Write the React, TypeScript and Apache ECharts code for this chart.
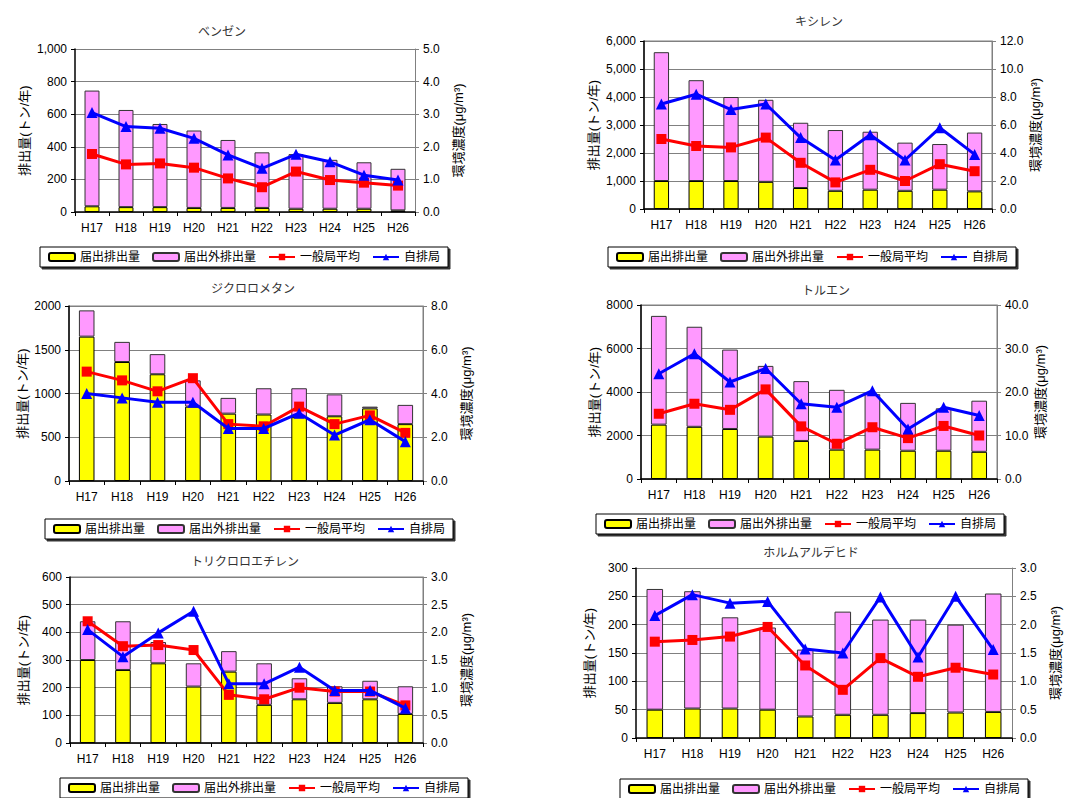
import React, { useEffect, useRef } from "react";
import * as echarts from "echarts";

const categories = ["H17", "H18", "H19", "H20", "H21", "H22", "H23", "H24", "H25", "H26"];
const seriesNames = ["届出排出量", "届出外排出量", "一般局平均", "自排局"];
const leftAxisName = "排出量(トン/年)";
const rightAxisName = "環境濃度(μg/m³)";

// ベンゼン
const benzeneTitle = "ベンゼン";
const benzeneReported = [35, 30, 30, 25, 25, 25, 20, 20, 20, 10];
const benzeneUnreported = [710, 596, 510, 475, 417, 341, 335, 300, 285, 255];
const benzeneGeneral = [1.78, 1.46, 1.49, 1.36, 1.03, 0.76, 1.24, 0.98, 0.9, 0.81];
const benzeneRoadside = [3.05, 2.62, 2.57, 2.26, 1.75, 1.34, 1.77, 1.54, 1.13, 0.98];

// キシレン
const xyleneTitle = "キシレン";
const xyleneReported = [1000, 1000, 1000, 970, 750, 650, 690, 650, 690, 630];
const xyleneUnreported = [4600, 3600, 3000, 2930, 2330, 2170, 2070, 1720, 1630, 2100];
const xyleneGeneral = [5.0, 4.5, 4.4, 5.1, 3.3, 1.9, 2.8, 2.0, 3.2, 2.7];
const xyleneRoadside = [7.5, 8.2, 7.1, 7.5, 5.1, 3.5, 5.3, 3.5, 5.8, 3.9];

// ジクロロメタン
const dcmTitle = "ジクロロメタン";
const dcmReported = [1650, 1360, 1220, 850, 770, 760, 730, 740, 830, 650];
const dcmUnreported = [300, 230, 230, 300, 180, 300, 330, 250, 20, 220];
const dcmGeneral = [5.0, 4.6, 4.1, 4.7, 2.6, 2.5, 3.4, 2.6, 3.0, 2.2];
const dcmRoadside = [4.0, 3.8, 3.6, 3.6, 2.4, 2.4, 3.1, 2.1, 2.8, 1.8];

// トルエン
const tolueneTitle = "トルエン";
const tolueneReported = [2500, 2400, 2300, 1950, 1750, 1350, 1350, 1300, 1300, 1250];
const tolueneUnreported = [5000, 4600, 3650, 3250, 2750, 2750, 2550, 2200, 1950, 2350];
const tolueneGeneral = [15.0, 17.3, 15.9, 20.6, 12.1, 8.1, 11.9, 9.4, 12.2, 10.0];
const tolueneRoadside = [24.2, 28.8, 22.3, 25.4, 17.3, 16.5, 20.3, 11.5, 16.5, 14.6];

// トリクロロエチレン
const tceTitle = "トリクロロエチレン";
const tceReported = [300, 264, 288, 204, 258, 138, 158, 145, 158, 105];
const tceUnreported = [140, 176, 77, 84, 74, 150, 76, 60, 67, 100];
const tceGeneral = [2.2, 1.75, 1.77, 1.68, 0.87, 0.79, 1.0, 0.93, 0.93, 0.68];
const tceRoadside = [2.05, 1.56, 1.99, 2.38, 1.07, 1.07, 1.37, 0.95, 0.95, 0.63];

// ホルムアルデヒド
const hchoTitle = "ホルムアルデヒド";
const hchoReported = [50, 52, 52, 50, 38, 41, 41, 44, 45, 46];
const hchoUnreported = [213, 207, 161, 145, 118, 182, 168, 165, 155, 209];
const hchoGeneral = [1.7, 1.73, 1.79, 1.96, 1.28, 0.85, 1.41, 1.08, 1.24, 1.12];
const hchoRoadside = [2.16, 2.53, 2.38, 2.41, 1.57, 1.5, 2.49, 1.43, 2.5, 1.56];

const panels = [
  { title: benzeneTitle, rep: benzeneReported, unrep: benzeneUnreported, gen: benzeneGeneral, road: benzeneRoadside, lMax: 1000, lInt: 200, rMax: 5, rInt: 1, comma: true },
  { title: xyleneTitle, rep: xyleneReported, unrep: xyleneUnreported, gen: xyleneGeneral, road: xyleneRoadside, lMax: 6000, lInt: 1000, rMax: 12, rInt: 2, comma: true },
  { title: dcmTitle, rep: dcmReported, unrep: dcmUnreported, gen: dcmGeneral, road: dcmRoadside, lMax: 2000, lInt: 500, rMax: 8, rInt: 2, comma: false },
  { title: tolueneTitle, rep: tolueneReported, unrep: tolueneUnreported, gen: tolueneGeneral, road: tolueneRoadside, lMax: 8000, lInt: 2000, rMax: 40, rInt: 10, comma: false },
  { title: tceTitle, rep: tceReported, unrep: tceUnreported, gen: tceGeneral, road: tceRoadside, lMax: 600, lInt: 100, rMax: 3, rInt: 0.5, comma: false },
  { title: hchoTitle, rep: hchoReported, unrep: hchoUnreported, gen: hchoGeneral, road: hchoRoadside, lMax: 300, lInt: 50, rMax: 3, rInt: 0.5, comma: false },
];

// layout (pixels)
const layouts = [
  { gl: 75, gt: 49, gw: 340, gh: 163, tx: 217, ty: 21, lx: 40, ly: 247, border: false },
  { gl: 644, gt: 41, gw: 348, gh: 168, tx: 814, ty: 11, lx: 608, ly: 247, border: true },
  { gl: 69, gt: 306, gw: 354, gh: 175, tx: 248, ty: 278, lx: 45, ly: 519, border: true },
  { gl: 641, gt: 305, gw: 356, gh: 174, tx: 821, ty: 280, lx: 596, ly: 514, border: true },
  { gl: 70, gt: 577, gw: 353, gh: 166, tx: 240, ty: 551, lx: 60, ly: 778, border: true },
  { gl: 636, gt: 568, gw: 376, gh: 170, tx: 806, ty: 542, lx: 620, ly: 779, border: false },
];

const FONT = '"Liberation Sans", "Noto Sans CJK JP", sans-serif';

function buildOption() {
  const grid: any[] = [];
  const xAxis: any[] = [];
  const yAxis: any[] = [];
  const series: any[] = [];
  const title: any[] = [];
  const legend: any[] = [];

  panels.forEach((p, i) => {
    const L = layouts[i];
    grid.push({
      left: L.gl, top: L.gt, width: L.gw, height: L.gh,
      show: L.border, borderColor: "#808080", borderWidth: 1,
    });
    title.push({
      text: p.title, left: L.tx, top: L.ty, textAlign: "center",
      textStyle: { fontSize: 12, fontWeight: "normal", color: "#333", fontFamily: FONT },
    });
    legend.push({
      data: seriesNames.map((n) => ({ name: n })),
      left: L.lx, top: L.ly, orient: "horizontal",
      itemWidth: 26, itemHeight: 8, itemGap: 12,
      padding: [4, 8],
      borderColor: "#000", borderWidth: 1,
      shadowColor: "rgba(0,0,0,0.8)", shadowOffsetX: 2, shadowOffsetY: 2, shadowBlur: 0,
      backgroundColor: "#fff",
      textStyle: { fontSize: 12, color: "#000", fontFamily: FONT },
    });
    xAxis.push({
      type: "category", gridIndex: i, data: categories,
      axisLine: { lineStyle: { color: "#000", width: 1.5 } },
      axisTick: { show: true, alignWithLabel: false, length: 4, lineStyle: { color: "#000" } },
      axisLabel: { fontSize: 12, color: "#000", fontFamily: FONT, margin: 10 },
    });
    yAxis.push({
      type: "value", gridIndex: i, min: 0, max: p.lMax, interval: p.lInt, position: "left",
      name: leftAxisName, nameLocation: "middle", nameRotate: 90, nameGap: p.comma ? 44 : 40,
      nameTextStyle: { fontSize: 13, color: "#000", fontFamily: FONT },
      axisLine: { show: true, lineStyle: { color: "#000", width: 1.5 } },
      axisTick: { show: true, length: 4, lineStyle: { color: "#000" } },
      axisLabel: {
        fontSize: 12, color: "#000", fontFamily: FONT,
        formatter: (v: number) => (p.comma ? v.toLocaleString("en-US") : String(v)),
      },
      splitLine: { show: true, lineStyle: { color: "#808080", width: 1 } },
    });
    yAxis.push({
      type: "value", gridIndex: i, min: 0, max: p.rMax, interval: p.rInt, position: "right",
      name: rightAxisName, nameLocation: "middle", nameRotate: 90, nameGap: 37,
      nameTextStyle: { fontSize: 13, color: "#000", fontFamily: FONT },
      axisLine: { show: true, lineStyle: { color: "#808080", width: 1 } },
      axisTick: { show: true, length: 4, lineStyle: { color: "#808080" } },
      axisLabel: { fontSize: 12, color: "#000", fontFamily: FONT, formatter: (v: number) => v.toFixed(1) },
      splitLine: { show: false },
    });
    const stack = "s" + i;
    series.push({
      name: seriesNames[0], type: "bar", stack, xAxisIndex: i, yAxisIndex: 2 * i,
      data: p.rep, barWidth: "44%",
      itemStyle: { color: "#FFFF00", borderColor: "#000", borderWidth: 1 },
    });
    series.push({
      name: seriesNames[1], type: "bar", stack, xAxisIndex: i, yAxisIndex: 2 * i,
      data: p.unrep, barWidth: "44%",
      itemStyle: { color: "#FF99FF", borderColor: "#333", borderWidth: 1 },
    });
    series.push({
      name: seriesNames[2], type: "line", xAxisIndex: i, yAxisIndex: 2 * i + 1,
      data: p.gen, symbol: "rect", symbolSize: 10,
      lineStyle: { color: "#FF0000", width: 3 },
      itemStyle: { color: "#FF0000" }, z: 5,
    });
    series.push({
      name: seriesNames[3], type: "line", xAxisIndex: i, yAxisIndex: 2 * i + 1,
      data: p.road, symbol: "triangle", symbolSize: 11,
      lineStyle: { color: "#0000FF", width: 3 },
      itemStyle: { color: "#0000FF" }, z: 6,
    });
  });

  return {
    animation: false,
    backgroundColor: "#fff",
    textStyle: { fontFamily: FONT },
    title, legend, grid, xAxis, yAxis, series,
  };
}

export default function App() {
  const ref = useRef<HTMLDivElement>(null);
  useEffect(() => {
    if (!ref.current) return;
    const chart = echarts.init(ref.current, undefined, { renderer: "svg" });
    chart.setOption(buildOption());
    return () => chart.dispose();
  }, []);
  return (
    <div
      ref={ref}
      style={{ position: "absolute", left: 0, top: 0, width: 1088, height: 798, background: "#fff" }}
    />
  );
}
